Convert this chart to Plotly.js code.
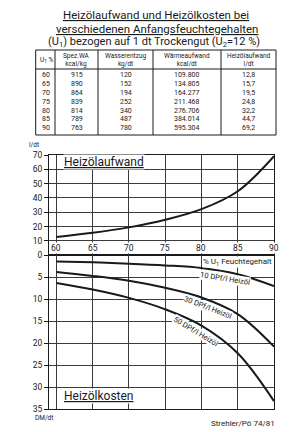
<!DOCTYPE html>
<html><head><meta charset="utf-8">
<script src="https://cdn.plot.ly/plotly-3.0.1.min.js"></script>
<style>html,body{margin:0;padding:0;background:#fff}</style>
</head><body><div id="chart" style="width:306px;height:432px"></div>
<script>
// ---- data ----
const moisture = [60, 65, 70, 75, 80, 85, 90];
const spezWA = [915, 890, 864, 839, 814, 789, 763];
const wasserentzug = [120, 152, 194, 252, 340, 487, 780];
const waermeaufwand = [109800, 134805, 164277, 211468, 276706, 384014, 595304];
const heizoel = [12.8, 15.7, 19.5, 24.8, 32.2, 44.7, 69.2];
const cost10 = [1.4, 1.6, 1.9, 2.3, 2.9, 4.3, 7.0];
const cost30 = [3.8, 4.7, 5.8, 7.4, 9.6, 13.4, 20.8];
const cost50 = [6.3, 7.8, 9.7, 12.3, 16.0, 22.3, 33.2];
const topTicks = [0, 10, 20, 30, 40, 50, 60, 70];
const bottomTicks = [5, 10, 15, 20, 25, 30, 35];
const xTicks = [60, 65, 70, 75, 80, 85, 90];
const tableHeader = ['U<sub>1</sub> %', 'Spez.WA<br>kcal/kg', 'Wasserentzug<br>kg/dt', 'Wärmeaufwand<br>kcal/dt', 'Heizölaufwand<br>l/dt'];
const curveLabels = ['10 DPf/l Heizöl', '30 DPf/l Heizöl', '50 DPf/l Heizöl'];

// ---- helpers ----
const W = 306, H = 432;
const px = v => v / W;
const py = v => 1 - v / H;
const thousands = n => String(n).replace(/\B(?=(\d{3})+(?!\d))/g, '.');
const comma = n => n.toFixed(1).replace('.', ',');
const FONT = 'Roboto, sans-serif';
const INK = '#1a1a1a';
const GRID = '#3a3a3a';

// table layout (pixel geometry)
const colEdges = [35.7, 55, 98, 153, 221, 276];
const tTop = 50, tHeadBottom = 69, tBottom = 135;
const rowY0 = 75.5, rowStep = 8.8;
const tableColumns = [
  moisture.map(String),
  spezWA.map(String),
  wasserentzug.map(String),
  waermeaufwand.map(thousands),
  heizoel.map(comma)
];

const shapes = [];
const annotations = [];
const ann = (o) => annotations.push(Object.assign({showarrow: false, xref: 'paper', yref: 'paper', xanchor: 'center', yanchor: 'middle',
  font: {family: FONT, size: 8, color: INK}}, o));
const line = (x0, y0, x1, y1) => shapes.push({type: 'line', xref: 'paper', yref: 'paper', x0: px(x0), y0: py(y0), x1: px(x1), y1: py(y1), line: {color: INK, width: 1}});

// table frame
shapes.push({type: 'rect', xref: 'paper', yref: 'paper', x0: px(colEdges[0]), x1: px(colEdges[5]), y0: py(tBottom), y1: py(tTop), line: {color: INK, width: 1}});
line(colEdges[0], tHeadBottom, colEdges[5], tHeadBottom);
colEdges.slice(1, 5).forEach(x => line(x, tTop, x, tBottom));

tableHeader.forEach((h, c) => {
  const left = c === 0;
  ann({x: left ? px(colEdges[0] + 2) : px((colEdges[c] + colEdges[c + 1]) / 2), xanchor: left ? 'left' : 'center',
       y: py((tTop + tHeadBottom) / 2), text: h, font: {family: FONT, size: 6.5, color: INK}});
});
tableColumns.forEach((col, c) => {
  const left = c === 0;
  col.forEach((t, r) => ann({
    x: left ? px(colEdges[0] + 4) : px((colEdges[c] + colEdges[c + 1]) / 2), xanchor: left ? 'left' : 'center',
    y: py(rowY0 + r * rowStep), text: t, font: {family: FONT, size: 7, color: INK}
  }));
});

const traces = [
  {type: 'scatter', mode: 'lines', x: moisture, y: heizoel, xaxis: 'x', yaxis: 'y',
   line: {color: INK, width: 2, shape: 'spline', smoothing: 1}, hoverinfo: 'skip'},
  {type: 'scatter', mode: 'lines', x: moisture, y: cost10, xaxis: 'x2', yaxis: 'y2',
   line: {color: INK, width: 2, shape: 'spline', smoothing: 1}, hoverinfo: 'skip'},
  {type: 'scatter', mode: 'lines', x: moisture, y: cost30, xaxis: 'x2', yaxis: 'y2',
   line: {color: INK, width: 2, shape: 'spline', smoothing: 1}, hoverinfo: 'skip'},
  {type: 'scatter', mode: 'lines', x: moisture, y: cost50, xaxis: 'x2', yaxis: 'y2',
   line: {color: INK, width: 2, shape: 'spline', smoothing: 1}, hoverinfo: 'skip'}
];

const xDomain = [px(49), px(274)];
const xRange = [58.97, 90];
const axisCommon = {
  showline: true, mirror: true, linecolor: INK, linewidth: 1,
  showgrid: true, gridcolor: GRID, gridwidth: 1, zeroline: false,
  tickfont: {family: FONT, size: 8.5, color: INK}
};

// titles
ann({x: px(156), y: py(15), text: '<u>Heizölaufwand und Heizölkosten bei</u>', font: {family: FONT, size: 11.5, color: INK}});
ann({x: px(157), y: py(29), text: '<u>verschiedenen Anfangsfeuchtegehalten</u>', font: {family: FONT, size: 11.5, color: INK}});
ann({x: px(154), y: py(42), text: '(U<sub>1</sub>) bezogen auf 1 dt Trockengut (U<sub>2</sub>=12 %)', font: {family: FONT, size: 11, color: INK}});

// x tick labels of the upper chart (sitting just above the zero line)
xTicks.forEach(v => annotations.push({x: v, y: 0, xref: 'x', yref: 'y', xanchor: 'center', yanchor: 'bottom', yshift: 1, showarrow: false,
  text: String(v), font: {family: FONT, size: 8.5, color: INK}, bgcolor: '#fff', borderpad: 0}));

ann({x: px(34), y: py(145), text: 'l/dt', font: {family: FONT, size: 6.5, color: INK}});
ann({x: px(44), y: py(418), text: 'DM/dt', font: {family: FONT, size: 6.5, color: INK}});
ann({x: px(63), y: py(162), xanchor: 'left', text: '<u>Heizölaufwand</u>', font: {family: FONT, size: 12, color: INK}, bgcolor: '#fff', borderpad: 0});
ann({x: px(63), y: py(396), xanchor: 'left', text: '<u>Heizölkosten</u>', font: {family: FONT, size: 12, color: INK}, bgcolor: '#fff', borderpad: 0});
ann({x: px(273), y: py(262), xanchor: 'right', text: '% U<sub>1</sub> Feuchtegehalt', font: {family: FONT, size: 8, color: INK}, bgcolor: '#fff', borderpad: 0});
ann({x: px(225), y: py(278), text: curveLabels[0], textangle: 9, bgcolor: '#fff', borderpad: 0, font: {family: FONT, size: 7.5, color: INK}});
ann({x: px(208), y: py(307), text: curveLabels[1], textangle: 21, bgcolor: '#fff', borderpad: 0, font: {family: FONT, size: 7.5, color: INK}});
ann({x: px(196), y: py(331), text: curveLabels[2], textangle: 31, bgcolor: '#fff', borderpad: 0, font: {family: FONT, size: 7.5, color: INK}});
ann({x: px(277), y: py(423), xanchor: 'right', text: 'Strehler/Pö 74/81', font: {family: FONT, size: 8, color: INK}});

const layout = {
  width: W, height: H,
  margin: {l: 0, r: 0, t: 0, b: 0},
  paper_bgcolor: '#fff', plot_bgcolor: '#fff',
  showlegend: false,
  xaxis: Object.assign({}, axisCommon, {domain: xDomain, range: xRange, anchor: 'y', tickvals: xTicks, showticklabels: false, ticks: ''}),
  xaxis2: Object.assign({}, axisCommon, {domain: xDomain, range: xRange, anchor: 'y2', tickvals: xTicks, showticklabels: false, ticks: ''}),
  yaxis: Object.assign({}, axisCommon, {domain: [py(255.3), py(155)], range: [0, 70], anchor: 'x', tickvals: topTicks,
    ticks: 'outside', ticklen: 4, tickcolor: INK}),
  yaxis2: Object.assign({}, axisCommon, {domain: [py(409), py(255.3)], range: [35, 0], anchor: 'x2', tickvals: bottomTicks,
    ticks: 'outside', ticklen: 4, tickcolor: INK}),
  shapes: shapes,
  annotations: annotations
};

Plotly.newPlot('chart', traces, layout, {displayModeBar: false, staticPlot: true});
</script></body></html>
